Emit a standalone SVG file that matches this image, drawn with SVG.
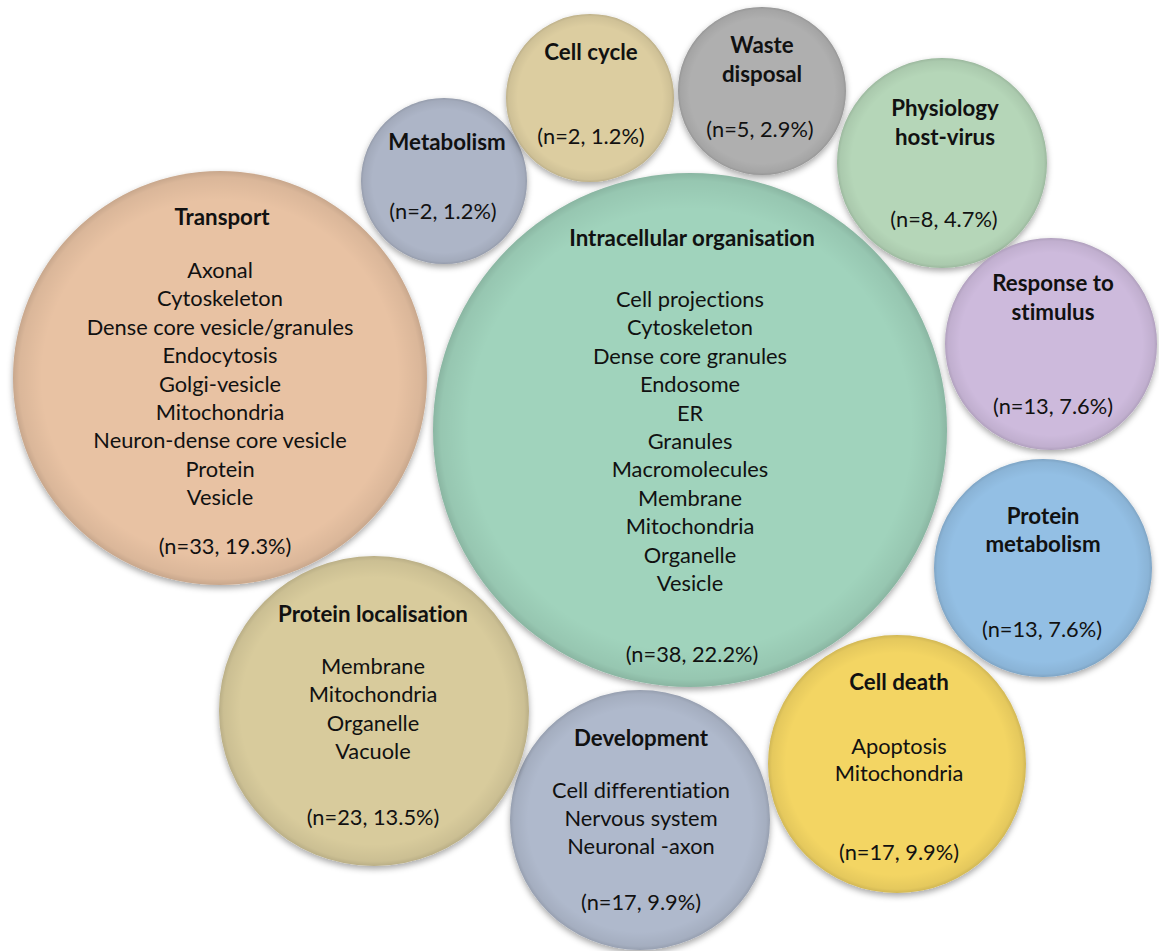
<svg xmlns="http://www.w3.org/2000/svg" width="1159" height="951" viewBox="0 0 1159 951">
<defs>
<filter id="sh" x="-20%" y="-20%" width="140%" height="140%">
<feDropShadow dx="0" dy="3" stdDeviation="3" flood-color="#000" flood-opacity="0.35"/>
</filter>
<radialGradient id="rim" cx="50%" cy="50%" r="50%">
<stop offset="0.86" stop-color="#000" stop-opacity="0"/>
<stop offset="0.97" stop-color="#000" stop-opacity="0.06"/>
<stop offset="1" stop-color="#000" stop-opacity="0.14"/>
</radialGradient>
</defs>
<style>
text{font-family:Lato,"Liberation Sans",sans-serif;font-size:21.8px;fill:#111;text-anchor:middle;font-variant-ligatures:none}
.t{font-weight:bold;font-size:22.3px}
.base{filter:url(#sh)}
.rim{fill:url(#rim)}
</style>
<rect width="1159" height="951" fill="#fff"/>

<g id="transport">
<circle class="base" cx="220" cy="378" r="207" fill="#E8C2A3"/>
<circle class="rim" cx="220" cy="378" r="207"/>
<text class="t" x="222" y="225">Transport</text>
<text x="220" y="278">Axonal</text>
<text x="220" y="306">Cytoskeleton</text>
<text x="220" y="335">Dense core vesicle/granules</text>
<text x="220" y="363">Endocytosis</text>
<text x="220" y="392">Golgi-vesicle</text>
<text x="220" y="420">Mitochondria</text>
<text x="220" y="448">Neuron-dense core vesicle</text>
<text x="220" y="477">Protein</text>
<text x="220" y="505">Vesicle</text>
<text x="225" y="554">(n=33, 19.3%)</text>
</g>

<g id="metabolism">
<circle class="base" cx="444" cy="181" r="83" fill="#ADB5C7"/>
<circle class="rim" cx="444" cy="181" r="83"/>
<text class="t" x="447" y="150">Metabolism</text>
<text x="443" y="219">(n=2, 1.2%)</text>
</g>

<g id="cellcycle">
<circle class="base" cx="590" cy="98" r="84" fill="#DCCDA0"/>
<circle class="rim" cx="590" cy="98" r="84"/>
<text class="t" x="591" y="60">Cell cycle</text>
<text x="591" y="144">(n=2, 1.2%)</text>
</g>

<g id="waste">
<circle class="base" cx="762" cy="91" r="84" fill="#AFAFAF"/>
<circle class="rim" cx="762" cy="91" r="84"/>
<text class="t" x="762" y="53">Waste</text>
<text class="t" x="762" y="82">disposal</text>
<text x="760" y="137">(n=5, 2.9%)</text>
</g>

<g id="physiology">
<circle class="base" cx="942" cy="163" r="105" fill="#B5D6B8"/>
<circle class="rim" cx="942" cy="163" r="105"/>
<text class="t" x="945" y="116">Physiology</text>
<text class="t" x="945" y="145">host-virus</text>
<text x="944" y="227">(n=8, 4.7%)</text>
</g>

<g id="intracellular">
<circle class="base" cx="690" cy="430" r="257" fill="#A0D3BC"/>
<circle class="rim" cx="690" cy="430" r="257"/>
<text class="t" x="692" y="246">Intracellular organisation</text>
<text x="690" y="307">Cell projections</text>
<text x="690" y="335">Cytoskeleton</text>
<text x="690" y="364">Dense core granules</text>
<text x="690" y="392">Endosome</text>
<text x="690" y="421">ER</text>
<text x="690" y="449">Granules</text>
<text x="690" y="477">Macromolecules</text>
<text x="690" y="506">Membrane</text>
<text x="690" y="534">Mitochondria</text>
<text x="690" y="563">Organelle</text>
<text x="690" y="591">Vesicle</text>
<text x="692" y="662">(n=38, 22.2%)</text>
</g>

<g id="response">
<circle class="base" cx="1051" cy="344" r="106" fill="#CDBADC"/>
<circle class="rim" cx="1051" cy="344" r="106"/>
<text class="t" x="1053" y="291">Response to</text>
<text class="t" x="1053" y="320">stimulus</text>
<text x="1053" y="414">(n=13, 7.6%)</text>
</g>

<g id="proteinmetabolism">
<circle class="base" cx="1043" cy="568" r="109" fill="#93BFE4"/>
<circle class="rim" cx="1043" cy="568" r="109"/>
<text class="t" x="1043" y="524">Protein</text>
<text class="t" x="1043" y="552">metabolism</text>
<text x="1042" y="637">(n=13, 7.6%)</text>
</g>

<g id="celldeath">
<circle class="base" cx="897" cy="764" r="129" fill="#F3D563"/>
<circle class="rim" cx="897" cy="764" r="129"/>
<text class="t" x="899" y="690">Cell death</text>
<text x="899" y="754">Apoptosis</text>
<text x="899" y="781">Mitochondria</text>
<text x="899" y="860">(n=17, 9.9%)</text>
</g>

<g id="development">
<circle class="base" cx="640" cy="820" r="130" fill="#AFB9CC"/>
<circle class="rim" cx="640" cy="820" r="130"/>
<text class="t" x="641" y="746">Development</text>
<text x="641" y="798">Cell differentiation</text>
<text x="641" y="826">Nervous system</text>
<text x="641" y="854">Neuronal -axon</text>
<text x="641" y="910">(n=17, 9.9%)</text>
</g>

<g id="proteinlocalisation">
<circle class="base" cx="374" cy="711" r="155" fill="#D8CB9C"/>
<circle class="rim" cx="374" cy="711" r="155"/>
<text class="t" x="373" y="622">Protein localisation</text>
<text x="373" y="674">Membrane</text>
<text x="373" y="702">Mitochondria</text>
<text x="373" y="731">Organelle</text>
<text x="373" y="759">Vacuole</text>
<text x="373" y="825">(n=23, 13.5%)</text>
</g>

<g id="connectors"></g>
</svg>
